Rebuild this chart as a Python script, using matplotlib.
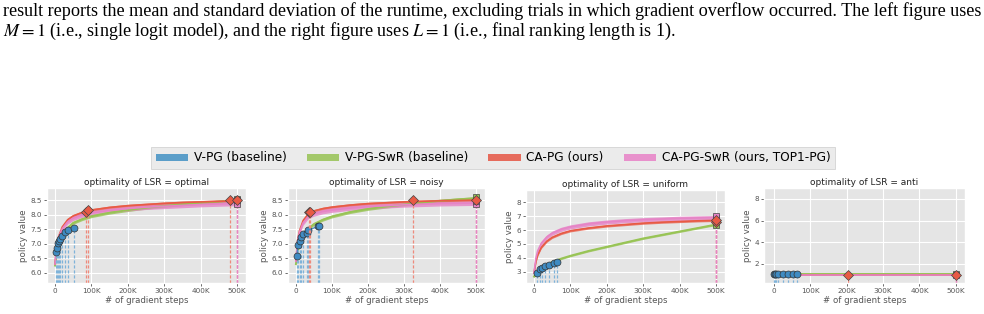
import matplotlib
matplotlib.use('Agg')
import matplotlib.pyplot as plt
from matplotlib.patches import Patch
from matplotlib.ticker import FuncFormatter

plt.style.use('ggplot')
plt.rcParams['mathtext.fontset'] = 'stix'

W, H = 984, 314

# ---------------- data (x in thousands of gradient steps) ----------------
steps_k = [0, 5, 10, 20, 35, 50, 75, 100, 150, 200, 250, 300, 350, 400, 450, 500]

panel_names = ['optimal', 'noisy', 'uniform', 'anti']
series_labels = ['V-PG (baseline)', 'V-PG-SwR (baseline)', 'CA-PG (ours)', 'CA-PG-SwR (ours, TOP1-PG)']

# optimal
opt_swr = [6.25, 6.7, 7.0, 7.3, 7.55, 7.72, 7.85, 7.95, 8.07, 8.16, 8.24, 8.3, 8.36, 8.41, 8.45, 8.5]
opt_ca = [6.3, 6.95, 7.25, 7.58, 7.83, 7.96, 8.08, 8.16, 8.25, 8.31, 8.35, 8.39, 8.42, 8.44, 8.46, 8.48]
opt_caswr = [6.3, 6.95, 7.22, 7.52, 7.76, 7.88, 7.99, 8.06, 8.15, 8.21, 8.26, 8.29, 8.32, 8.35, 8.37, 8.39]
opt_vpg_x = [4, 6, 9, 12, 15, 20, 27, 36, 53]
opt_vpg_y = [6.72, 6.85, 7.02, 7.08, 7.15, 7.28, 7.40, 7.46, 7.56]
opt_ca_end_x = [85, 92, 481, 500]
opt_ca_end_y = [8.11, 8.15, 8.5, 8.52]
opt_caswr_end_x = [500, 500]
opt_caswr_end_y = [8.36, 8.5]
opt_swr_end_x = [500]
opt_swr_end_y = [8.55]

# noisy
noi_swr = [6.3, 6.75, 7.0, 7.28, 7.52, 7.68, 7.83, 7.94, 8.09, 8.2, 8.28, 8.35, 8.42, 8.48, 8.53, 8.57]
noi_ca = [6.4, 7.15, 7.45, 7.8, 8.04, 8.13, 8.21, 8.26, 8.33, 8.38, 8.41, 8.44, 8.46, 8.48, 8.49, 8.5]
noi_caswr = [6.4, 7.12, 7.4, 7.72, 7.95, 8.03, 8.11, 8.16, 8.23, 8.28, 8.31, 8.34, 8.36, 8.38, 8.39, 8.4]
noi_vpg_x = [2, 6, 10, 14, 21, 30, 34, 62, 65]
noi_vpg_y = [6.57, 6.96, 7.08, 7.24, 7.32, 7.38, 7.47, 7.6, 7.6]
noi_ca_end_x = [35, 40, 324, 500]
noi_ca_end_y = [8.1, 8.08, 8.5, 8.5]
noi_caswr_end_x = [500, 500]
noi_caswr_end_y = [8.38, 8.48]
noi_swr_end_x = [500]
noi_swr_end_y = [8.6]

# uniform
uni_swr = [2.65, 2.85, 3.0, 3.25, 3.5, 3.7, 3.95, 4.15, 4.5, 4.8, 5.1, 5.4, 5.65, 5.9, 6.15, 6.4]
uni_ca = [2.9, 3.7, 4.2, 4.75, 5.2, 5.48, 5.76, 5.95, 6.15, 6.3, 6.4, 6.5, 6.57, 6.62, 6.67, 6.7]
uni_caswr = [2.9, 3.95, 4.5, 5.05, 5.5, 5.78, 6.06, 6.23, 6.45, 6.58, 6.68, 6.75, 6.8, 6.85, 6.88, 6.9]
uni_vpg_x = [7, 17, 22, 30, 40, 55, 63]
uni_vpg_y = [2.93, 3.2, 3.28, 3.38, 3.5, 3.65, 3.7]
uni_ca_end_x = [500, 500]
uni_ca_end_y = [6.6, 6.75]
uni_caswr_end_x = [500, 500]
uni_caswr_end_y = [6.9, 7.05]
uni_swr_end_x = [500]
uni_swr_end_y = [6.4]

# anti
ant_swr = [1.08, 1.08, 1.08, 1.08, 1.08, 1.08, 1.08, 1.08, 1.08, 1.08, 1.08, 1.08, 1.08, 1.08, 1.08, 1.08]
ant_ca = [1.02, 1.02, 1.02, 1.02, 1.02, 1.02, 1.02, 1.02, 1.02, 1.02, 1.02, 1.02, 1.02, 1.02, 1.02, 1.02]
ant_caswr = [1.0, 1.0, 1.0, 1.0, 1.0, 1.0, 1.0, 1.0, 1.0, 1.0, 1.0, 1.0, 1.0, 1.0, 1.0, 1.0]
ant_vpg_x = [0, 3, 7, 12, 26, 40, 53, 65]
ant_vpg_y = [1.05, 1.05, 1.05, 1.06, 1.07, 1.07, 1.08, 1.08]
ant_ca_end_x = [205, 500]
ant_ca_end_y = [1.0, 1.0]
ant_caswr_end_x = [500]
ant_caswr_end_y = [1.0]
ant_swr_end_x = [500]
ant_swr_end_y = [1.08]

# half-widths of the spread bands
band_swr = [0.05, 0.05, 0.07, 0.0]
band_ca = [0.05, 0.05, 0.08, 0.0]
band_caswr = [0.08, 0.08, 0.15, 0.0]

# ---------------- style ----------------
c_blue = '#3f8bc2'
c_blue_line = '#7fb3d9'
c_green = '#98c455'
c_red = '#e85a45'
c_pink = '#e684c6'
leg_colors = ['#5b9ec9', '#a3c86a', '#e66b5c', '#e891cc']

axes_px = [(47, 246, 188, 283), (288, 485, 188, 283), (526, 725, 190, 283), (764, 965, 188, 283)]
xlims = [(-22, 525), (-22, 525), (-22, 525), (-27, 525)]
ylims = [(5.65, 8.92), (5.65, 8.92), (2.19, 8.89), (0.25, 9.0)]
yticks = [[6.0, 6.5, 7.0, 7.5, 8.0, 8.5], [6.0, 6.5, 7.0, 7.5, 8.0, 8.5], [3, 4, 5, 6, 7, 8], [2, 4, 6, 8]]
yfmt = ['{:.1f}', '{:.1f}', '{:.0f}', '{:.0f}']

data = [
    (opt_swr, opt_ca, opt_caswr, opt_vpg_x, opt_vpg_y, opt_ca_end_x, opt_ca_end_y,
     opt_caswr_end_x, opt_caswr_end_y, opt_swr_end_x, opt_swr_end_y),
    (noi_swr, noi_ca, noi_caswr, noi_vpg_x, noi_vpg_y, noi_ca_end_x, noi_ca_end_y,
     noi_caswr_end_x, noi_caswr_end_y, noi_swr_end_x, noi_swr_end_y),
    (uni_swr, uni_ca, uni_caswr, uni_vpg_x, uni_vpg_y, uni_ca_end_x, uni_ca_end_y,
     uni_caswr_end_x, uni_caswr_end_y, uni_swr_end_x, uni_swr_end_y),
    (ant_swr, ant_ca, ant_caswr, ant_vpg_x, ant_vpg_y, ant_ca_end_x, ant_ca_end_y,
     ant_caswr_end_x, ant_caswr_end_y, ant_swr_end_x, ant_swr_end_y),
]

fig = plt.figure(figsize=(W / 100, H / 100), dpi=100)
fig.patch.set_facecolor('white')

kfmt = FuncFormatter(lambda v, p: '0' if v == 0 else '{:d}K'.format(int(round(v))))
dash = (0, (2.5, 1.5))

for i, (l, r, t, b) in enumerate(axes_px):
    ax = fig.add_axes([l / W, 1 - b / H, (r - l) / W, (b - t) / H])
    (swr, ca, caswr, vx, vy, cex, cey, csx, csy, sex, sey) = data[i]
    y0 = ylims[i][0]

    lo = lambda s, w: [v - w for v in s]
    hi = lambda s, w: [v + w for v in s]

    # bands + mean lines
    ax.fill_between(steps_k, lo(swr, band_swr[i]), hi(swr, band_swr[i]), color=c_green, alpha=0.8, lw=0)
    ax.plot(steps_k, swr, color=c_green, lw=1.4)
    ax.fill_between(steps_k, lo(ca, band_ca[i]), hi(ca, band_ca[i]), color=c_red, alpha=0.75, lw=0)
    ax.plot(steps_k, ca, color=c_red, lw=1.2)
    ax.fill_between(steps_k, lo(caswr, band_caswr[i]), hi(caswr, band_caswr[i]), color=c_pink, alpha=0.8, lw=0)
    ax.plot(steps_k, caswr, color=c_pink, lw=1.2)

    # V-PG (ends early)
    ax.vlines(vx, y0, vy, colors=c_blue_line, linestyles=dash, lw=0.9)
    ax.plot(vx, vy, color=c_blue, lw=0.9)
    ax.plot(vx, vy, 'o', color=c_blue, ms=5, mec='#333333', mew=0.5)

    # end markers
    ax.vlines(cex, y0, cey, colors='#ee8a7c', linestyles=dash, lw=0.9)
    ax.vlines(csx, y0, csy, colors=c_pink, linestyles=dash, lw=0.9)
    ax.plot(sex, sey, 's', color=c_green, ms=4.8, mec='#444444', mew=0.5)
    ax.plot(csx, csy, 's', color=c_pink, ms=4.8, mec='#444444', mew=0.5)
    ax.plot(cex, cey, 'D', color=c_red, ms=4.8, mec='#444444', mew=0.5)

    ax.set_xlim(*xlims[i])
    ax.set_ylim(*ylims[i])
    ax.set_xticks([0, 100, 200, 300, 400, 500])
    ax.xaxis.set_major_formatter(kfmt)
    ax.set_yticks(yticks[i])
    ax.set_yticklabels([yfmt[i].format(v) for v in yticks[i]])
    ax.tick_params(labelsize=5.2, length=2, width=0.6, colors='#555555', pad=1.5)
    ax.grid(True, color='white', lw=0.8)
    ax.set_axisbelow(True)
    ax.set_title('optimality of LSR = ' + panel_names[i], fontsize=6.5, pad=2.5, color='#222222')
    ax.set_xlabel('# of gradient steps', fontsize=6.2, labelpad=1.5, color='#555555')
    ax.set_ylabel('policy value', fontsize=6.3, labelpad=2, color='#555555')

# legend
handles = [Patch(facecolor=c, edgecolor='none') for c in leg_colors]
fig.legend(handles, series_labels, loc='center', bbox_to_anchor=(493 / W, 1 - 158 / H),
           ncol=4, fontsize=8.7, handlelength=2.7, handleheight=0.55, handletextpad=0.45,
           columnspacing=1.66, frameon=True, facecolor='#ebebeb', edgecolor='#cccccc',
           framealpha=1.0, borderpad=0.35, fancybox=False)

# caption text above the figure
line1 = ('result reports the mean and standard deviation of the runtime, excluding trials in which '
         'gradient overflow occurred. The left figure uses')
line2 = (r'$M = 1$ (i.e., single logit model), and the right figure uses $L = 1$ '
         '(i.e., final ranking length is 1).')
t1 = fig.text(3 / W, 1 - 11 / H, line1, fontsize=11, family='Liberation Serif', va='center', color='black')
t2 = fig.text(3 / W, 1 - 31 / H, line2, fontsize=11, family='Liberation Serif', va='center', color='black')
fig.canvas.draw()
w1 = t1.get_window_extent().width
fs = 11 * 979 / w1
t1.set_fontsize(fs)
t2.set_fontsize(fs)

fig.savefig('out.png', dpi=100, facecolor='white')
